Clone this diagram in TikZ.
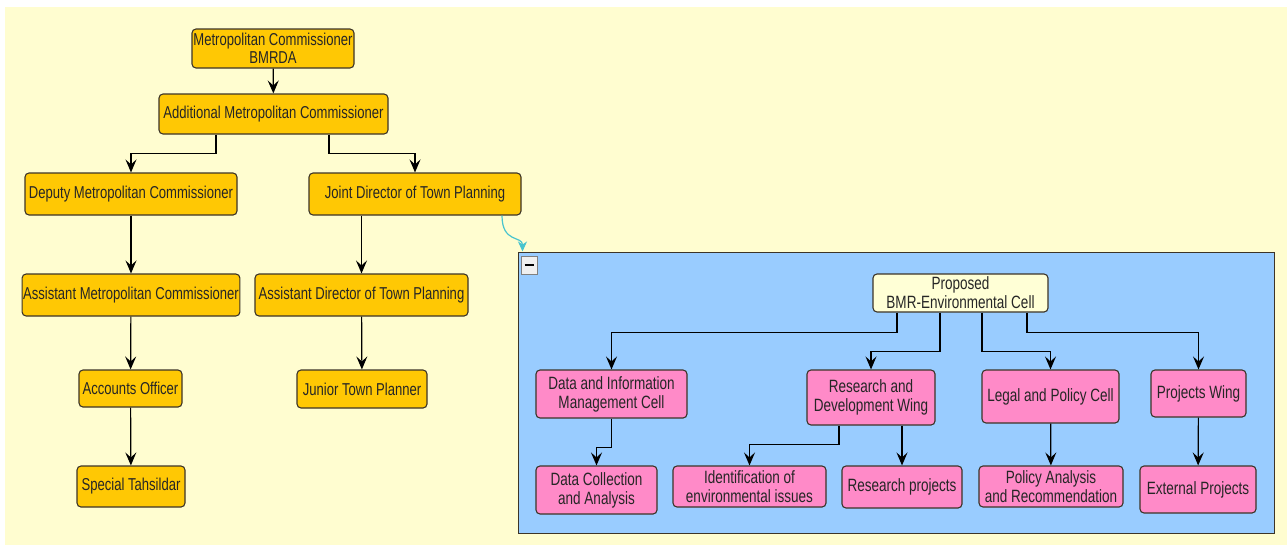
\documentclass[tikz,border=0pt]{standalone}
\usepackage{fontspec}
\setmainfont{Liberation Sans}[FakeStretch=0.76]
\usetikzlibrary{arrows.meta, positioning}
\usepackage{xcolor}

\definecolor{bgyellow}{RGB}{255,253,208}
\definecolor{boxorange}{RGB}{255,200,4}
\definecolor{boxpink}{RGB}{255,138,200}
\definecolor{cellblue}{RGB}{153,204,255}
\definecolor{paleyellow}{RGB}{255,255,214}
\definecolor{linkcyan}{RGB}{72,196,206}
\definecolor{edgegray}{RGB}{60,52,40}

\begin{document}
\begin{tikzpicture}[
    x=1pt, y=-1pt,
    orgbox/.style = {rectangle, draw=edgegray, fill=boxorange, line width=1.1pt, rounded corners=4pt, align=center, inner sep=1pt, text=black!85, font=\fontsize{17.2}{18}\selectfont},
    cellbox/.style = {orgbox, fill=boxpink, font=\fontsize{17.8}{19}\selectfont},
    conn/.style = {draw=black, line width=1.2pt, -{Stealth[length=13pt, width=11pt, inset=5pt]}},
    link/.style = {draw=linkcyan, line width=1.2pt, -{Stealth[length=10pt, width=9pt, inset=3pt]}}
]

% Canvas
\useasboundingbox (0,0) rectangle (1287,547);
\fill[white] (0,0) rectangle (1287,547);
\fill[bgyellow] (5,7) rectangle (1287,545);

% Main hierarchy
\node (n_mc) [orgbox, minimum width=162pt, minimum height=39pt] at (273,48.5) {Metropolitan Commissioner\\BMRDA};
\node (n_amc) [orgbox, minimum width=229pt, minimum height=40pt] at (273.5,114) {Additional Metropolitan Commissioner};
\node (n_dmc) [orgbox, minimum width=212pt, minimum height=42pt] at (131,194) {Deputy Metropolitan Commissioner};
\node (n_jdtp) [orgbox, minimum width=212pt, minimum height=42pt] at (415,194) {Joint Director of Town Planning};
\node (n_asmc) [orgbox, minimum width=212pt, minimum height=42pt] at (131,295) {Assistant Metropolitan Commissioner};
\node (n_adtp) [orgbox, minimum width=213pt, minimum height=42pt] at (361.5,295) {Assistant Director of Town Planning};
\node (n_ao) [orgbox, minimum width=103pt, minimum height=37pt] at (130.5,388.5) {Accounts Officer};
\node (n_jtp) [orgbox, minimum width=130pt, minimum height=38pt] at (362,389) {Junior Town Planner};
\node (n_st) [orgbox, minimum width=108pt, minimum height=41pt] at (131,486.5) {Special Tahsildar};

% Environmental cell group
\node (n_cell) [rectangle, draw=edgegray, fill=cellblue, line width=1pt, minimum width=756pt, minimum height=281pt] at (896,392.5) {};
\node (n_btn) [rectangle, draw=gray, fill=gray!12, line width=0.8pt, minimum width=16pt, minimum height=18pt, inner sep=0pt] at (529,265) {};
\draw[line width=2.4pt] ([xshift=-4.5pt]n_btn.center) -- ([xshift=4.5pt]n_btn.center);

\node (n_prop) [cellbox, fill=paleyellow, minimum width=175pt, minimum height=38pt] at (960.5,293) {Proposed\\BMR-Environmental Cell};
\node (n_dimc) [cellbox, minimum width=151pt, minimum height=48pt] at (611.5,394) {Data and Information\\Management Cell};
\node (n_rdw) [cellbox, minimum width=128pt, minimum height=55pt] at (871,397.5) {Research and\\Development Wing};
\node (n_lpc) [cellbox, minimum width=137pt, minimum height=53pt] at (1050.5,396.5) {Legal and Policy Cell};
\node (n_pw) [cellbox, minimum width=95pt, minimum height=47pt] at (1198.5,393.5) {Projects Wing};
\node (n_dca) [cellbox, minimum width=121pt, minimum height=48pt] at (596.5,490) {Data Collection\\and Analysis};
\node (n_iei) [cellbox, minimum width=153pt, minimum height=41pt] at (749.5,486.5) {Identification of\\environmental issues};
\node (n_rp) [cellbox, minimum width=120pt, minimum height=42pt] at (902,487) {Research projects};
\node (n_par) [cellbox, minimum width=144pt, minimum height=41pt] at (1051,486.5) {Policy Analysis\\and Recommendation};
\node (n_ep) [cellbox, minimum width=116pt, minimum height=47pt] at (1198,489.5) {External Projects};

% Connections, main hierarchy
\draw [conn] (n_mc) -- (n_amc);
\draw [conn] ([xshift=-57.5pt]n_amc.south) -- ++(0,19) -| (n_dmc.north);
\draw [conn] ([xshift=55.5pt]n_amc.south) -- ++(0,19) -| (n_jdtp.north);
\draw [conn] (n_dmc) -- (n_asmc);
\draw [conn] (n_asmc) -- (n_ao);
\draw [conn] (n_ao) -- (n_st);
\draw [conn] (n_jdtp.south -| n_adtp.north) -- (n_adtp.north);
\draw [conn] (n_adtp) -- (n_jtp);

% Link into the cell
\draw [link] ([xshift=87pt]n_jdtp.south) .. controls ++(0,28) and ++(0,-16) .. ([xshift=5pt]n_cell.north west);

% Connections, environmental cell
\draw [conn] ([xshift=-63.5pt]n_prop.south) -- ++(0,20) -| (n_dimc.north);
\draw [conn] ([xshift=-20.5pt]n_prop.south) -- ++(0,39) -| (n_rdw.north);
\draw [conn] ([xshift=21.5pt]n_prop.south) -- ++(0,39) -| (n_lpc.north);
\draw [conn] ([xshift=66.5pt]n_prop.south) -- ++(0,20) -| (n_pw.north);
\draw [conn] (n_dimc.south) -- ++(0,29) -| (n_dca.north);
\draw [conn] ([xshift=-32pt]n_rdw.south) -- ++(0,19) -| (n_iei.north);
\draw [conn] (n_rdw.south -| n_rp.north) -- (n_rp.north);
\draw [conn] (n_lpc) -- (n_par);
\draw [conn] (n_pw) -- (n_ep);

\end{tikzpicture}
\end{document}
